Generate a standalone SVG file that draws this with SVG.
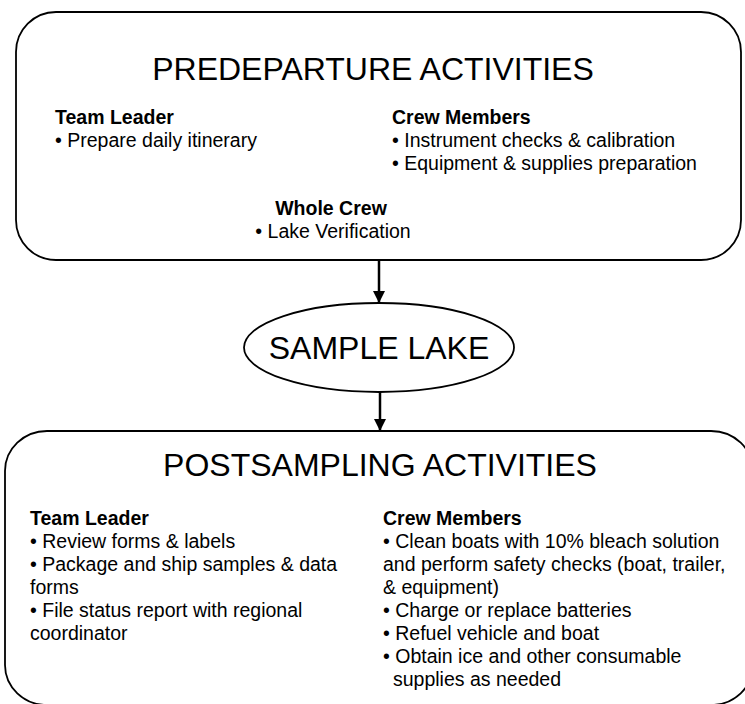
<svg xmlns="http://www.w3.org/2000/svg" width="745" height="704" viewBox="0 0 745 704">
<style>
.box{fill:#fff;stroke:#000;stroke-width:1.8}
.t{font-family:"Liberation Sans",Arial,sans-serif;fill:#000}
.title{font-size:32px}
.h{font-size:19.5px;font-weight:bold}
.b{font-size:19.5px}
.conn{stroke:#000;stroke-width:2.5;fill:none}
</style>
<defs>
<marker id="ah" markerWidth="12" markerHeight="12" refX="10" refY="5" orient="auto" markerUnits="userSpaceOnUse" viewBox="0 0 10 10">
<path d="M0,0 L10,5 L0,10 Z" fill="#000"/>
</marker>
</defs>
<g id="predeparture">
<rect class="box" x="16" y="12" width="725" height="248" rx="40" ry="40"/>
<text class="t title" x="373" y="80" text-anchor="middle">PREDEPARTURE ACTIVITIES</text>
<text class="t h" x="55" y="124">Team Leader</text>
<text class="t b" x="55" y="147">• Prepare daily itinerary</text>
<text class="t h" x="392" y="124">Crew Members</text>
<text class="t b" x="392" y="147">• Instrument checks &amp; calibration</text>
<text class="t b" x="392" y="170">• Equipment &amp; supplies preparation</text>
<text class="t h" x="331" y="215" text-anchor="middle">Whole Crew</text>
<text class="t b" x="333" y="238" text-anchor="middle">• Lake Verification</text>
</g>
<g id="sample-lake">
<ellipse class="box" cx="379" cy="347.5" rx="135" ry="44.5"/>
<text class="t title" x="379" y="359" text-anchor="middle">SAMPLE LAKE</text>
</g>
<g id="postsampling">
<rect class="box" x="5" y="431" width="748" height="274" rx="42" ry="40"/>
<text class="t title" x="380" y="476" text-anchor="middle">POSTSAMPLING ACTIVITIES</text>
<text class="t h" x="30" y="525">Team Leader</text>
<text class="t b" x="30" y="548">• Review forms &amp; labels</text>
<text class="t b" x="30" y="571">• Package and ship samples &amp; data</text>
<text class="t b" x="30" y="594">forms</text>
<text class="t b" x="30" y="617">• File status report with regional</text>
<text class="t b" x="30" y="640">coordinator</text>
<text class="t h" x="383" y="525">Crew Members</text>
<text class="t b" x="383" y="548">• Clean boats with 10% bleach solution</text>
<text class="t b" x="383" y="571">and perform safety checks (boat, trailer,</text>
<text class="t b" x="383" y="594">&amp; equipment)</text>
<text class="t b" x="383" y="617">• Charge or replace batteries</text>
<text class="t b" x="383" y="640">• Refuel vehicle and boat</text>
<text class="t b" x="383" y="663">• Obtain ice and other consumable</text>
<text class="t b" x="393" y="686">supplies as needed</text>
</g>
<g id="connectors">
<line class="conn" x1="379" y1="260" x2="379" y2="303" marker-end="url(#ah)"/>
<line class="conn" x1="380" y1="392" x2="380" y2="431" marker-end="url(#ah)"/>
</g>
</svg>
